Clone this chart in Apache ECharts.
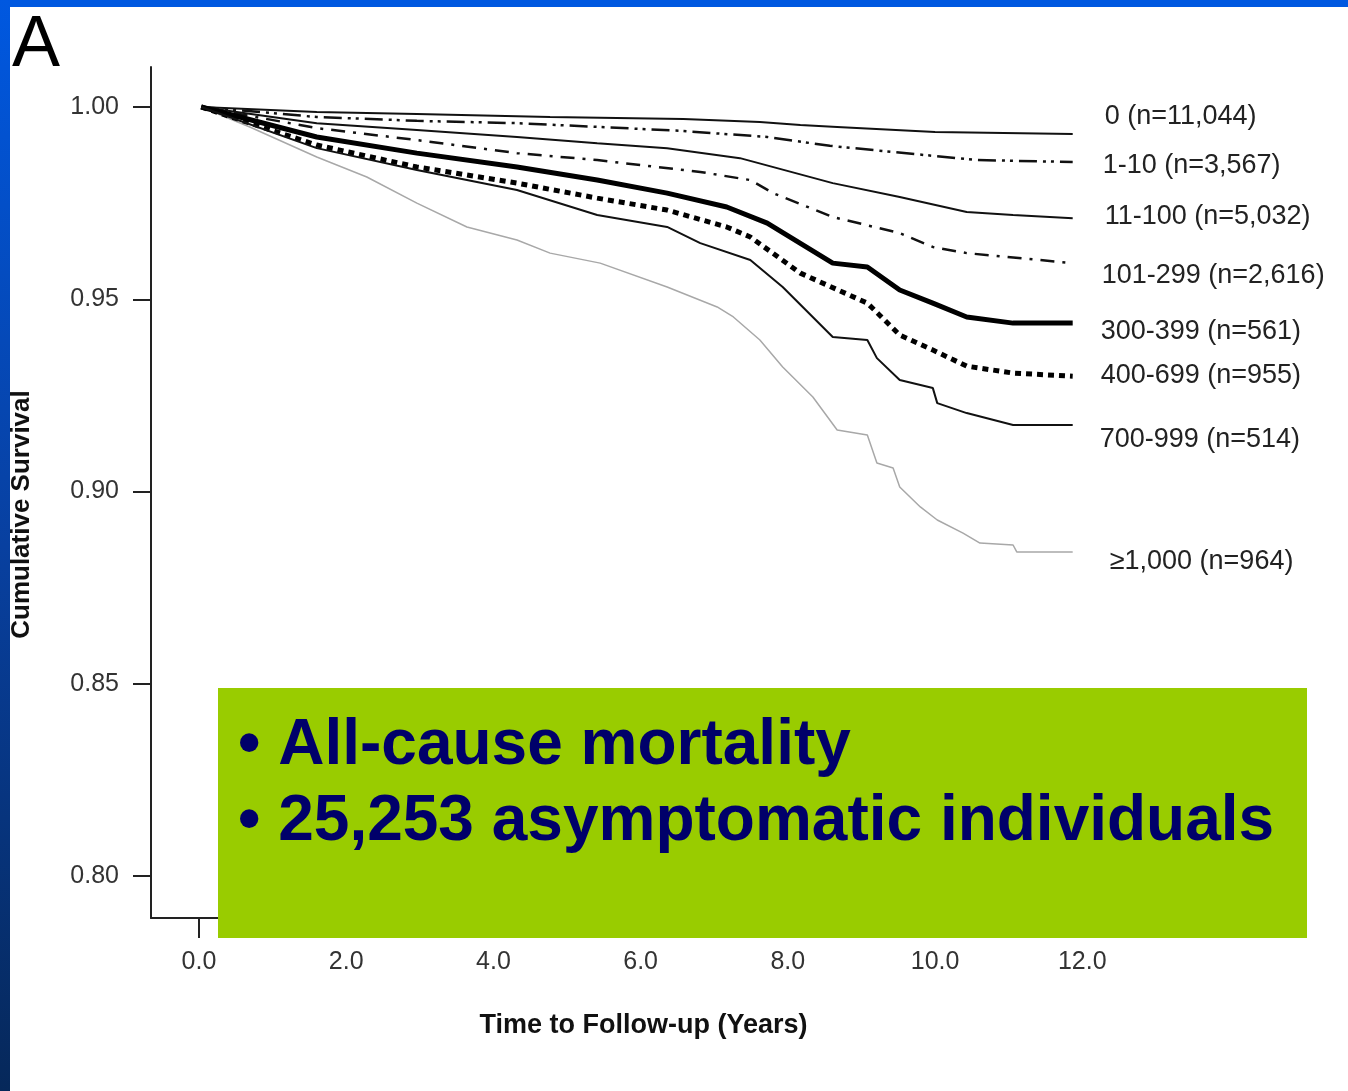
<!DOCTYPE html>
<html>
<head>
<meta charset="utf-8">
<script src="https://cdn.jsdelivr.net/npm/echarts@6/dist/echarts.min.js"></script>
<style>
  html, body { margin: 0; padding: 0; background: #fff; }
  #chart { width: 1348px; height: 1091px; }
</style>
</head>
<body>
<div id="chart"></div>
<script>
// survival curves, [years, cumulative survival]
var groupLabels = ['0 (n=11,044)', '1-10 (n=3,567)', '11-100 (n=5,032)', '101-299 (n=2,616)',
                   '300-399 (n=561)', '400-699 (n=955)', '700-999 (n=514)', '\u22651,000 (n=964)'];

var surv0 = [[0.03,1.0],[1.6,0.9987],[2.96,0.9982],[4.77,0.9974],[6.58,0.9969],[7.62,0.9961],
             [8.17,0.9953],[8.67,0.9948],[10.0,0.9935],[11.87,0.9930]];
var surv1 = [[0.03,1.0],[1.6,0.9974],[2.96,0.9964],[4.32,0.9958],[5.45,0.9948],[6.54,0.9938],
             [7.72,0.9922],[8.57,0.9899],[9.43,0.9883],[10.57,0.9862],[11.87,0.9857]];
var surv2 = [[0.03,1.0],[1.6,0.9958],[2.96,0.9940],[4.32,0.9922],[5.41,0.9906],[6.36,0.9893],
             [7.35,0.9867],[8.61,0.9802],[9.52,0.9766],[10.43,0.9727],[11.06,0.9719],[11.87,0.9711]];
var surv3 = [[0.03,1.0],[1.6,0.9945],[2.96,0.9914],[4.32,0.9880],[5.41,0.9862],[6.81,0.9831],
             [7.49,0.9810],[7.80,0.9776],[8.61,0.9714],[9.52,0.9672],[9.97,0.9636],[10.43,0.9620],
             [11.87,0.9594]];
var surv4 = [[0.03,1.0],[1.6,0.9922],[2.96,0.9880],[4.32,0.9844],[5.41,0.9810],[6.36,0.9776],
             [7.17,0.9740],[7.72,0.9698],[8.61,0.9594],[9.08,0.9584],[9.52,0.9524],[9.97,0.9490],
             [10.43,0.9454],[11.06,0.9438],[11.87,0.9438]];
var surv5 = [[0.03,1.0],[1.6,0.9901],[2.96,0.9844],[4.32,0.9802],[5.41,0.9763],[6.36,0.9732],
             [7.17,0.9688],[7.49,0.9662],[8.17,0.9568],[9.08,0.9490],[9.52,0.9407],[9.97,0.9368],
             [10.43,0.9326],[11.06,0.9308],[11.87,0.9300]];
var surv6 = [[0.03,1.0],[1.6,0.9893],[2.96,0.9836],[4.32,0.9784],[5.41,0.9719],[6.36,0.9688],
             [6.81,0.9646],[7.49,0.9602],[7.93,0.9532],[8.61,0.9402],[9.08,0.9394],[9.21,0.9347],
             [9.52,0.9290],[9.97,0.9269],[10.03,0.9230],[10.43,0.9204],[11.06,0.9173],[11.87,0.9173]];
var surv7 = [[0.03,1.0],[0.69,0.9948],[1.6,0.9870],[2.28,0.9818],[2.96,0.9750],[3.64,0.9688],
             [4.32,0.9654],[4.77,0.9620],[5.45,0.9594],[6.36,0.9532],[7.04,0.9480],[7.26,0.9454],
             [7.62,0.9394],[7.93,0.9324],[8.34,0.9246],[8.67,0.9160],[9.08,0.9147],[9.21,0.9074],
             [9.43,0.9061],[9.52,0.9012],[9.80,0.8960],[10.03,0.8926],[10.38,0.8892],[10.61,0.8866],
             [11.06,0.8861],[11.11,0.8843],[11.87,0.8843]];

var xTicks = [0, 2, 4, 6, 8, 10, 12];
var yTicks = [0.80, 0.85, 0.90, 0.95, 1.00];

var curves = [surv0, surv1, surv2, surv3, surv4, surv5, surv6, surv7];

// line look + where the end label sits
var looks = [
    { color: '#111', width: 2,   type: 'solid',                 off: [2, -17] },
    { color: '#111', width: 2.5, type: [18, 6, 3, 5, 3, 6],     off: [0, 4] },
    { color: '#111', width: 2,   type: 'solid',                 off: [2, -2] },
    { color: '#111', width: 2.5, type: [14, 8, 3, 8],           off: [-1, 12] },
    { color: '#000', width: 5,   type: 'solid',                 off: [-2, 8] },
    { color: '#000', width: 5,   type: [6, 5],                  off: [-2, -1] },
    { color: '#111', width: 2,   type: 'solid',                 off: [-3, 15] },
    { color: '#a8a8a8', width: 1.5, type: 'solid',              off: [7, 10] }
];

var series = curves.map(function (d, i) {
    return {
        name: groupLabels[i],
        type: 'line',
        data: d,
        showSymbol: false,
        z: i === 7 ? 1 : 2,
        lineStyle: { color: looks[i].color, width: looks[i].width, type: looks[i].type, cap: 'butt' },
        endLabel: {
            show: true,
            formatter: '{a}',
            distance: 30,
            offset: looks[i].off,
            fontFamily: 'Liberation Sans, Arial, sans-serif',
            fontSize: 27,
            color: '#222'
        }
    };
});

var chart = echarts.init(document.getElementById('chart'));
var option = {
    animation: false,
    backgroundColor: '#fff',
    grid: { left: 151, right: 212, top: 67, bottom: 173 },
    xAxis: {
        type: 'value',
        min: -0.652,
        max: 12.73,
        name: 'Time to Follow-up (Years)',
        nameLocation: 'middle',
        nameGap: 94,
        nameTextStyle: { fontFamily: 'Liberation Sans, Arial, sans-serif', fontSize: 27, fontWeight: 'bold', color: '#111' },
        axisLine: { onZero: false, lineStyle: { color: '#222', width: 2 } },
        axisTick: { customValues: xTicks, length: 20, lineStyle: { color: '#222', width: 2 } },
        axisLabel: {
            customValues: xTicks,
            margin: 32,
            fontFamily: 'Liberation Sans, Arial, sans-serif',
            fontSize: 25,
            color: '#333',
            formatter: function (v) { return v.toFixed(1); }
        },
        splitLine: { show: false }
    },
    yAxis: {
        type: 'value',
        min: 0.7891,
        max: 1.0104,
        name: 'Cumulative Survival',
        nameLocation: 'middle',
        nameGap: 116,
        nameTextStyle: { fontFamily: 'Liberation Sans, Arial, sans-serif', fontSize: 26, fontWeight: 'bold', color: '#111', padding: [0, 44, 0, 0] },
        axisLine: { show: true, onZero: false, lineStyle: { color: '#222', width: 2 } },
        axisTick: { show: true, customValues: yTicks, length: 18, lineStyle: { color: '#222', width: 2 } },
        axisLabel: {
            customValues: yTicks,
            margin: 32,
            fontFamily: 'Liberation Sans, Arial, sans-serif',
            fontSize: 25,
            color: '#333',
            formatter: function (v) { return v.toFixed(2); }
        },
        splitLine: { show: false }
    },
    graphic: [
        { type: 'rect', shape: { x: 0, y: 0, width: 1348, height: 7 }, style: { fill: '#0058e0' }, z: 100 },
        {
            type: 'rect', shape: { x: 0, y: 0, width: 10, height: 1091 }, z: 100,
            style: { fill: new echarts.graphic.LinearGradient(0, 0, 0, 1, [
                { offset: 0, color: '#0058e0' },
                { offset: 0.5, color: '#0840a0' },
                { offset: 1, color: '#06285a' }
            ]) }
        },
        { type: 'text', x: 12, y: 10, z: 100,
          style: { text: 'A', font: '72px "Liberation Sans", Arial, sans-serif', fill: '#000' } },
        { type: 'rect', shape: { x: 218, y: 688, width: 1089, height: 250 }, style: { fill: '#99cc00' }, z: 100 },
        { type: 'text', x: 238, y: 746, z: 101,
          style: { text: '\u2022 All-cause mortality', font: 'bold 64px "Liberation Sans", Arial, sans-serif',
                   fill: '#00006a', verticalAlign: 'middle' } },
        { type: 'text', x: 238, y: 822, z: 101,
          style: { text: '\u2022 25,253 asymptomatic individuals', font: 'bold 64px "Liberation Sans", Arial, sans-serif',
                   fill: '#00006a', verticalAlign: 'middle' } }
    ],
    series: series
};
chart.setOption(option);
</script>
</body>
</html>
